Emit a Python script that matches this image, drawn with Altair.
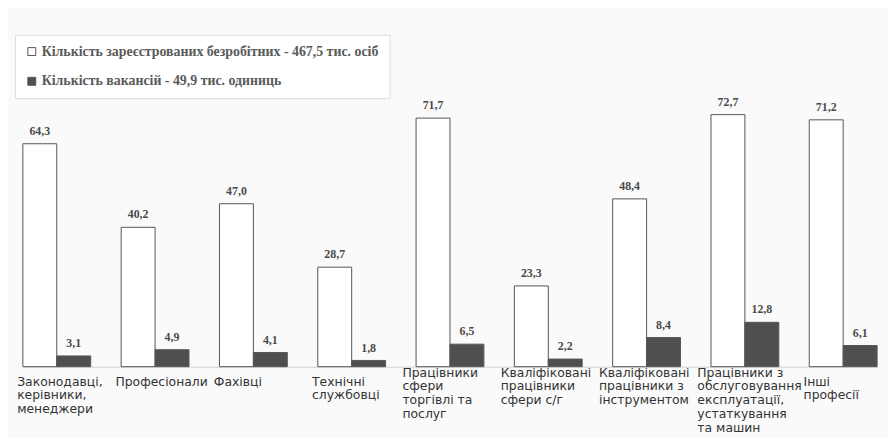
import altair as alt
import pandas as pd

categories = [
    "Законодавці,|керівники,|менеджери",
    "Професіонали",
    "Фахівці",
    "Технічні|службовці",
    "Працівники|сфери|торгівлі та|послуг",
    "Кваліфіковані|працівники|сфери с/г",
    "Кваліфіковані|працівники з|інструментом",
    "Працівники з|обслуговування|експлуатації,|устаткування|та машин",
    "Інші|професії",
]
unemployed = [64.3, 40.2, 47.0, 28.7, 71.7, 23.3, 48.4, 72.7, 71.2]
vacancies = [3.1, 4.9, 4.1, 1.8, 6.5, 2.2, 8.4, 12.8, 6.1]
series = [
    "Кількість зареєстрованих безробітних - 467,5 тис. осіб",
    "Кількість вакансій - 49,9 тис. одиниць",
]

rows = []
for c, u, v in zip(categories, unemployed, vacancies):
    rows.append({"cat": c, "series": series[0], "value": u})
    rows.append({"cat": c, "series": series[1], "value": v})
df = pd.DataFrame(rows)
cat_df = pd.DataFrame({"cat": categories})

x_scale = alt.Scale(domain=categories, paddingInner=0.31, paddingOuter=0)
x_enc = alt.X(
    "cat:N",
    sort=categories,
    scale=x_scale,
    axis=alt.Axis(title=None, labels=False, ticks=False, domainColor="#d0d0d0"),
)
xoff = alt.XOffset("series:N", sort=series, scale=alt.Scale(paddingInner=0, paddingOuter=0))
y_enc = alt.Y("value:Q", scale=alt.Scale(domain=[0, 76.6], nice=False), axis=None)

base = alt.Chart(df)

bars = base.mark_bar(stroke="#555555", strokeWidth=1).encode(
    x=x_enc,
    xOffset=xoff,
    y=y_enc,
    fill=alt.Fill(
        "series:N",
        sort=series,
        scale=alt.Scale(domain=series, range=["#ffffff", "#4f4f4f"]),
        legend=alt.Legend(
            title=None,
            orient="none",
            legendX=-8,
            legendY=-67,
            direction="vertical",
            symbolType="square",
            symbolSize=64,
            symbolStrokeColor="#555555",
            symbolStrokeWidth=1,
            labelFont="Liberation Serif",
            labelFontWeight="bold",
            labelFontSize=14,
            labelColor="#5a5a5a",
            labelLimit=600,
            labelOffset=3,
            rowPadding=16,
            padding=10,
            strokeColor="#dcdcdc",
            fillColor="#ffffff",
        ),
    ),
)

values = base.mark_text(
    baseline="bottom",
    dy=-6,
    font="Liberation Serif",
    fontWeight="bold",
    fontSize=12,
    color="#4a4a4a",
).transform_calculate(
    lbl="replace(format(datum.value, '.1f'), '.', ',')"
).encode(
    x=alt.X("cat:N", sort=categories, scale=x_scale),
    xOffset=xoff,
    y=y_enc,
    text="lbl:N",
)

label_style = dict(
    align="left",
    baseline="top",
    font="DejaVu Sans",
    fontSize=12.5,
    lineHeight=14,
    lineBreak="|",
    color="#333333",
)

worker_test = "test(/рацівники/, datum.cat)"

labels_other = (
    alt.Chart(cat_df)
    .mark_text(dx=-40, **label_style)
    .transform_filter("!(" + worker_test + ")")
    .encode(x=alt.X("cat:N", sort=categories, scale=x_scale), y=alt.value(277), text="cat:N")
)
labels_workers = (
    alt.Chart(cat_df)
    .mark_text(dx=-48, **label_style)
    .transform_filter(worker_test)
    .encode(x=alt.X("cat:N", sort=categories, scale=x_scale), y=alt.value(268), text="cat:N")
)

chart = (
    alt.layer(bars, values, labels_other, labels_workers)
    .properties(
        width=862,
        height=268,
        padding={"left": 15, "top": 92, "right": 11, "bottom": 70},
        autosize=alt.AutoSizeParams(type="none"),
        background="#fafafa",
    )
    .configure_view(stroke=None)
)

chart.save("out.html", embed_options={"renderer": "svg", "actions": False})
